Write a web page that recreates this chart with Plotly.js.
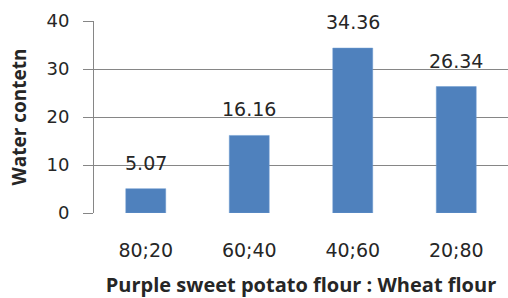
<!DOCTYPE html>
<html>
<head>
<meta charset="utf-8">
<script src="https://cdn.plot.ly/plotly-3.0.1.min.js"></script>
<style>html,body{margin:0;padding:0;background:#fff;}#chart{width:508px;height:298px;}</style>
</head>
<body>
<div id="chart"></div>
<script>
const categories = ["80;20", "60;40", "40;60", "20;80"];
const waterContent = [5.07, 16.16, 34.36, 26.34];
const valueLabels = ["5.07", "16.16", "34.36", "26.34"];
const yTickValues = [0, 10, 20, 30, 40];
const xTitle = "Purple sweet potato flour : Wheat flour";
const yTitle = "Water contetn";

const textColor = "#262626";
const gridColor = "#868686";

const trace = {
  type: "bar",
  x: categories,
  y: waterContent,
  marker: { color: "#4f81bd", line: { color: "#6d9ad0", width: 0.5 } },
  hoverinfo: "skip"
};

const annotations = categories.map((c, i) => ({
  x: c, y: waterContent[i], xref: "x", yref: "y",
  text: valueLabels[i], showarrow: false,
  yanchor: "middle", xanchor: "center", yshift: 26,
  font: { family: "DejaVu Sans", size: 19, color: textColor }
}));

const layout = {
  width: 508, height: 298,
  margin: { l: 94, r: 0, t: 21, b: 85 },
  paper_bgcolor: "#fff", plot_bgcolor: "#fff",
  showlegend: false,
  bargap: 0.614,
  xaxis: {
    type: "category",
    range: [-0.5, 3.5],
    showgrid: false, zeroline: false, showline: false,
    ticks: "",
    ticklabelstandoff: 24,
    tickfont: { family: "DejaVu Sans", size: 19, color: textColor },
    title: { text: xTitle, standoff: 24, font: { family: "Open Sans", size: 20, color: textColor, weight: "bold" } },
    automargin: false
  },
  yaxis: {
    range: [0, 40],
    tickvals: yTickValues,
    showgrid: true, gridcolor: gridColor, gridwidth: 1,
    zeroline: false,
    showline: true, linecolor: gridColor, linewidth: 1,
    ticks: "outside", ticklen: 10, tickcolor: gridColor, tickwidth: 1,
    ticklabelstandoff: 10,
    tickfont: { family: "DejaVu Sans", size: 18, color: textColor },
    title: { text: yTitle, standoff: 14, font: { family: "Open Sans", size: 19, color: textColor, weight: "bold" } },
    automargin: false
  },
  annotations: annotations
};

Plotly.newPlot("chart", [trace], layout, { staticPlot: true, displayModeBar: false });
</script>
</body>
</html>
